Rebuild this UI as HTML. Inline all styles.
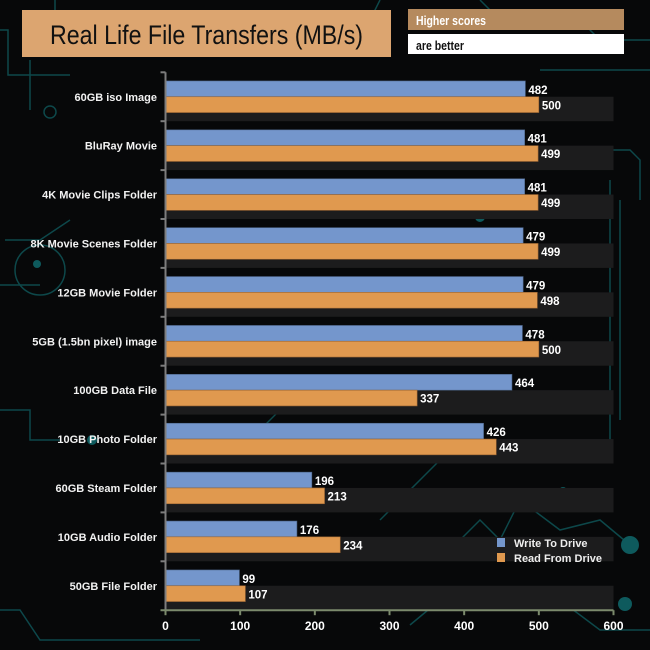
<!DOCTYPE html>
<html><head><meta charset="utf-8"><style>
body{margin:0;background:#060708;}
svg{display:block;font-family:"Liberation Sans",Arial,sans-serif;}
</style></head><body>
<svg width="650" height="650" viewBox="0 0 650 650">
<rect width="650" height="650" fill="#070809"/>
<g stroke="#0e4f52" stroke-width="1.5" fill="none" opacity="0.9">
<path d="M0 30 L8 30 L8 75 L70 75"/><path d="M55 0 L55 20"/><path d="M380 0 L370 20"/><path d="M480 0 L500 20 L580 20 L600 40 L650 40"/>
<path d="M540 70 L600 70 L650 70"/><path d="M30 110 L30 60"/><circle cx="50" cy="112" r="6"/>
<path d="M5 240 L40 240 L70 220"/><circle cx="40" cy="270" r="25"/><path d="M0 285 L40 285"/>
<path d="M580 150 L630 150 L640 160 L640 200"/><path d="M610 180 L610 450"/><path d="M620 200 L620 420"/>
<path d="M440 560 L480 520 L500 540 L520 500 L560 530 L600 520 L630 545"/>
<path d="M0 410 L30 410 L30 440 L60 440"/><path d="M0 610 L20 610 L40 640 L200 640"/>
<path d="M410 625 L440 600 L560 600 L600 630 L650 630"/><path d="M240 450 L300 390"/><path d="M380 520 L450 450"/>
</g>
<g fill="#0e5a5d">
<circle cx="630" cy="545" r="9"/><circle cx="625" cy="604" r="7"/><circle cx="480" cy="217" r="5"/><circle cx="500" cy="245" r="4"/>
<circle cx="37" cy="264" r="4"/><circle cx="92" cy="440" r="5"/><circle cx="507" cy="504" r="6"/><circle cx="563" cy="491" r="4"/>
</g>
<rect x="22" y="10" width="369" height="47" fill="#dca570"/>
<text x="50" y="44" font-size="27" fill="#111" textLength="313" lengthAdjust="spacingAndGlyphs">Real Life File Transfers (MB/s)</text>
<rect x="408" y="9" width="216" height="21" fill="#b58a5e"/>
<text x="416" y="25" font-size="12.5" font-weight="bold" fill="#fff" textLength="70" lengthAdjust="spacingAndGlyphs">Higher scores</text>
<rect x="408" y="34" width="216" height="20" fill="#fff"/>
<text x="416" y="50" font-size="12.5" font-weight="bold" fill="#111" textLength="48" lengthAdjust="spacingAndGlyphs">are better</text>
<g id="plot"></g>
<g>
<rect x="497" y="538" width="8" height="9" fill="#7496cc"/>
<text x="514" y="547" font-size="11" font-weight="bold" fill="#eee">Write To  Drive</text>
<rect x="497" y="553" width="8" height="9" fill="#e0994f"/>
<text x="514" y="562" font-size="11" font-weight="bold" fill="#eee">Read From  Drive</text>
</g>
</svg>
<script>
const categories=["60GB iso Image","BluRay Movie","4K Movie Clips Folder","8K Movie Scenes Folder","12GB Movie Folder","5GB (1.5bn pixel) image","100GB Data File","10GB Photo Folder","60GB Steam Folder","10GB Audio Folder","50GB File Folder"];
const writeValues=[482,481,481,479,479,478,464,426,196,176,99];
const readValues=[500,499,499,499,498,500,337,443,213,234,107];
const xTicks=[0,100,200,300,400,500,600];
const NS="http://www.w3.org/2000/svg";
const X0=165.5,X1=613.5,XMAX=600,Y0=72.3,STEP=48.9;
function x(v){return X0+(v/XMAX)*(X1-X0);}
function slot(i){return Y0+i*STEP;}
const g=document.getElementById('plot');
function mk(t,a){const e=document.createElementNS(NS,t);for(const k in a)e.setAttribute(k,a[k]);g.appendChild(e);return e;}
categories.forEach((c,i)=>{
 const top=slot(i),mid=top+STEP/2;
 const band=mk('rect',{x:X0,y:mid,width:X1-X0,height:STEP/2,fill:'#1c1c1d'});
 
 
 const bw=mk('rect',{x:X0,y:mid-15.8,width:x(writeValues[i])-X0,height:15.8,fill:'#7496cc',stroke:'#4d6588','stroke-width':0.6});
 
 
 const br=mk('rect',{x:X0,y:mid,width:x(readValues[i])-X0,height:15.8,fill:'#e0994f',stroke:'#9a6432','stroke-width':0.6});
 
 
 const tw=mk('text',{x:x(writeValues[i])+3,y:mid-3,'font-size':11.5,'font-weight':'bold',fill:'#fff'});
 tw.textContent=writeValues[i];
 
 
 const tr=mk('text',{x:x(readValues[i])+3,y:mid+12.5,'font-size':11.5,'font-weight':'bold',fill:'#fff'});
 tr.textContent=readValues[i];
 
 
 const cl=mk('text',{x:157,y:mid+4,'font-size':11,'font-weight':'bold',fill:'#f2f2f2','text-anchor':'end'});
 cl.textContent=c;
 
 
 const tk=mk('line',{x1:X0-5,x2:X0,y1:top,y2:top,stroke:'#7d7d7d','stroke-width':2});
 
 
});
const ya=mk('line',{x1:X0,x2:X0,y1:Y0,y2:Y0+STEP*categories.length,stroke:'#7d7d7d','stroke-width':2});


const yb=Y0+STEP*categories.length;
const xa=mk('line',{x1:X0-5,x2:X1,y1:yb,y2:yb,stroke:'#7b8a6c','stroke-width':2});


xTicks.forEach(v=>{
 const l=mk('line',{x1:x(v),x2:x(v),y1:yb,y2:yb+5,stroke:'#7b8a6c','stroke-width':2});
 
 
 const t=mk('text',{x:x(v),y:yb+20,'font-size':12,'font-weight':'bold',fill:'#fff','text-anchor':'middle'});
 t.textContent=v;
 
 
});
</script>
</body></html>
